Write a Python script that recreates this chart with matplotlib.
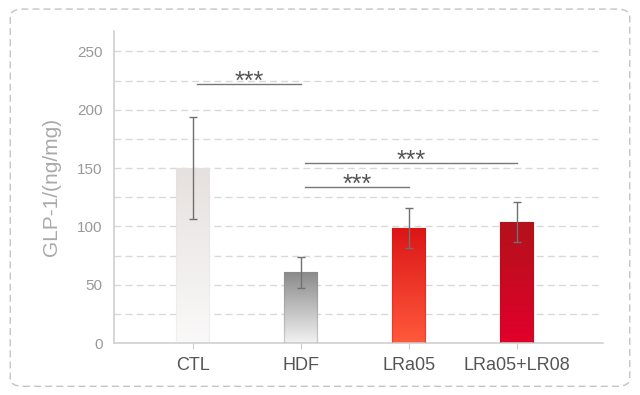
import matplotlib
matplotlib.use("Agg")
import matplotlib.pyplot as plt
import matplotlib.patches as mpatches
from matplotlib.colors import LinearSegmentedColormap
import numpy as np

groups = ["CTL", "HDF", "LRa05", "LRa05+LR08"]
means = [150, 60.5, 98.5, 103.5]
errors = [44, 13, 17, 17]
# top colour, bottom colour for each bar gradient
grad_colors = [("#e6e1df", "#faf9f9"), ("#8a8a8a", "#f2f2f2"),
               ("#dc1517", "#ff5a3c"), ("#b3121b", "#e2002b")]
# significance brackets: (from, to, height)
sig_pairs = [(0, 1, 222), (1, 3, 154), (1, 2, 134)]
sig_labels = ["***", "***", "***"]

plt.rcParams.update({"font.family": ["Liberation Sans", "DejaVu Sans"]})

fig = plt.figure(figsize=(6.4, 3.95), dpi=100)
ax = fig.add_axes([0.178, 0.1316, 0.764, 0.79])

# outer dashed rounded frame
frame = mpatches.FancyBboxPatch((0.016, 0.022), 0.968, 0.955,
                                boxstyle="round,pad=0,rounding_size=0.02",
                                transform=fig.transFigure, fill=False,
                                edgecolor="#c4c4c4", linestyle=(0, (5, 3)),
                                linewidth=1.0)
fig.patches.append(frame)

x = np.arange(len(groups))
w = 0.31
ax.set_xlim(-0.73, 3.8)
ax.set_ylim(0, 267.5)

for yv in np.arange(25, 251, 25):
    ax.axhline(yv, xmin=0, xmax=0.99, color="#d9d9d9", linestyle=(0, (5, 3)),
               linewidth=1.0, zorder=0)

for i, (m, (c_top, c_bot)) in enumerate(zip(means, grad_colors)):
    cmap = LinearSegmentedColormap.from_list(f"g{i}", [c_bot, c_top])
    grad = np.linspace(0, 1, 256).reshape(-1, 1)
    rect = mpatches.Rectangle((x[i] - w / 2, 0), w, m, facecolor="none",
                              edgecolor=c_top, alpha=0.35, linewidth=1.0, zorder=3)
    ax.add_patch(rect)
    im = ax.imshow(grad, cmap=cmap, origin="lower", aspect="auto",
                   extent=(x[i] - w / 2, x[i] + w / 2, 0, m), zorder=2)
    im.set_clip_path(rect)

ax.errorbar(x, means, yerr=errors, fmt="none", ecolor="#707070",
            elinewidth=1.0, capsize=3, capthick=1.0, zorder=4)

for (a, b, h), lab in zip(sig_pairs, sig_labels):
    ax.plot([x[a] + 0.04, x[b]], [h, h], color="#777777", linewidth=1.0, zorder=4)
    ax.text((x[a] + x[b]) / 2 + 0.02, h - 8.5, lab, ha="center", va="bottom",
            fontsize=18, color="#555555")

ax.set_xticks(x)
ax.set_xticklabels(groups, fontsize=13, color="#555555")
ax.set_yticks(np.arange(0, 251, 50))
ax.tick_params(axis="y", length=0, labelsize=11, labelcolor="#999999", pad=8)
ax.tick_params(axis="x", length=4, color="#cccccc", pad=6)
ax.set_ylabel("GLP-1/(ng/mg)", fontsize=15, color="#aaaaaa", labelpad=12)

for s in ["top", "right"]:
    ax.spines[s].set_visible(False)
for s in ["left", "bottom"]:
    ax.spines[s].set_color("#d0d0d0")
    ax.spines[s].set_linewidth(1.2)

fig.savefig("out.png", dpi=100)
